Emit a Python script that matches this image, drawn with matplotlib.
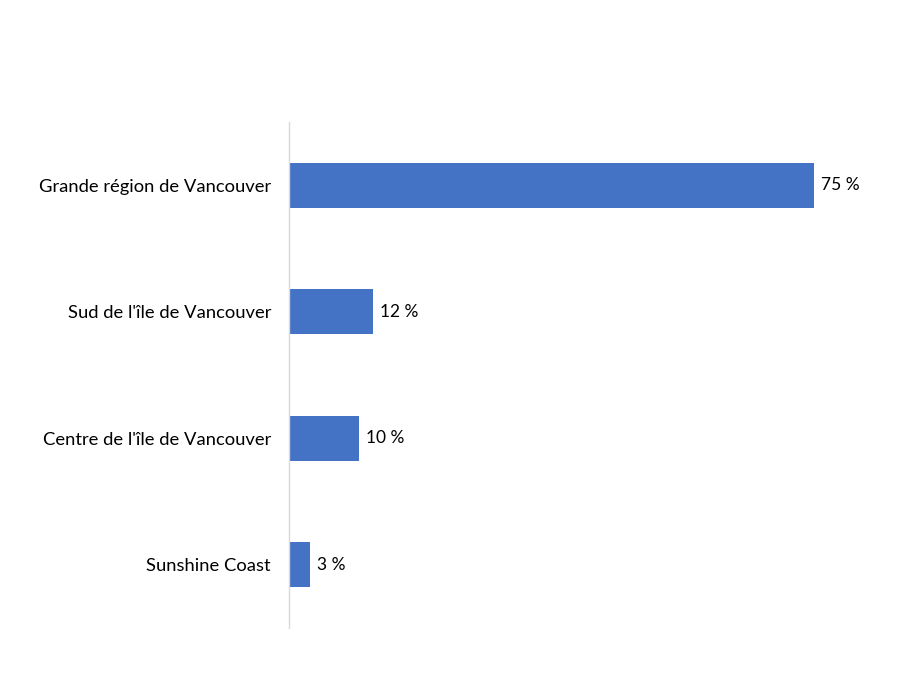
import matplotlib.pyplot as plt

regions = ["Grande région de Vancouver", "Sud de l'île de Vancouver",
           "Centre de l'île de Vancouver", "Sunshine Coast"]
shares = [75, 12, 10, 3]
value_labels = ["75 %", "12 %", "10 %", "3 %"]

plt.rcParams['font.family'] = ['Lato', 'DejaVu Sans']

fig = plt.figure(figsize=(9, 6.75), dpi=100)
ax = fig.add_axes([289 / 900, 1 - 628 / 675, 560 / 900, 506 / 675])

y_pos = list(range(len(regions)))
bars = ax.barh(y_pos, shares, height=0.356, color='#4472C4')

ax.set_xlim(0, 80)
ax.set_ylim(len(regions) - 0.5, -0.5)
ax.set_yticks(y_pos)
ax.set_yticklabels(regions, fontsize=13.2, color='#000000')
ax.tick_params(axis='y', length=0, pad=13)
ax.set_xticks([])

for spine in ['top', 'right', 'bottom']:
    ax.spines[spine].set_visible(False)
ax.spines['left'].set_color('#D9D9D9')
ax.spines['left'].set_linewidth(1)

for bar, lab in zip(bars, value_labels):
    ax.annotate(lab, (bar.get_width(), bar.get_y() + bar.get_height() / 2),
                xytext=(5, 0), textcoords='offset points',
                ha='left', va='center', fontsize=12.5, color='#000000')

fig.savefig('out.png', dpi=100)
